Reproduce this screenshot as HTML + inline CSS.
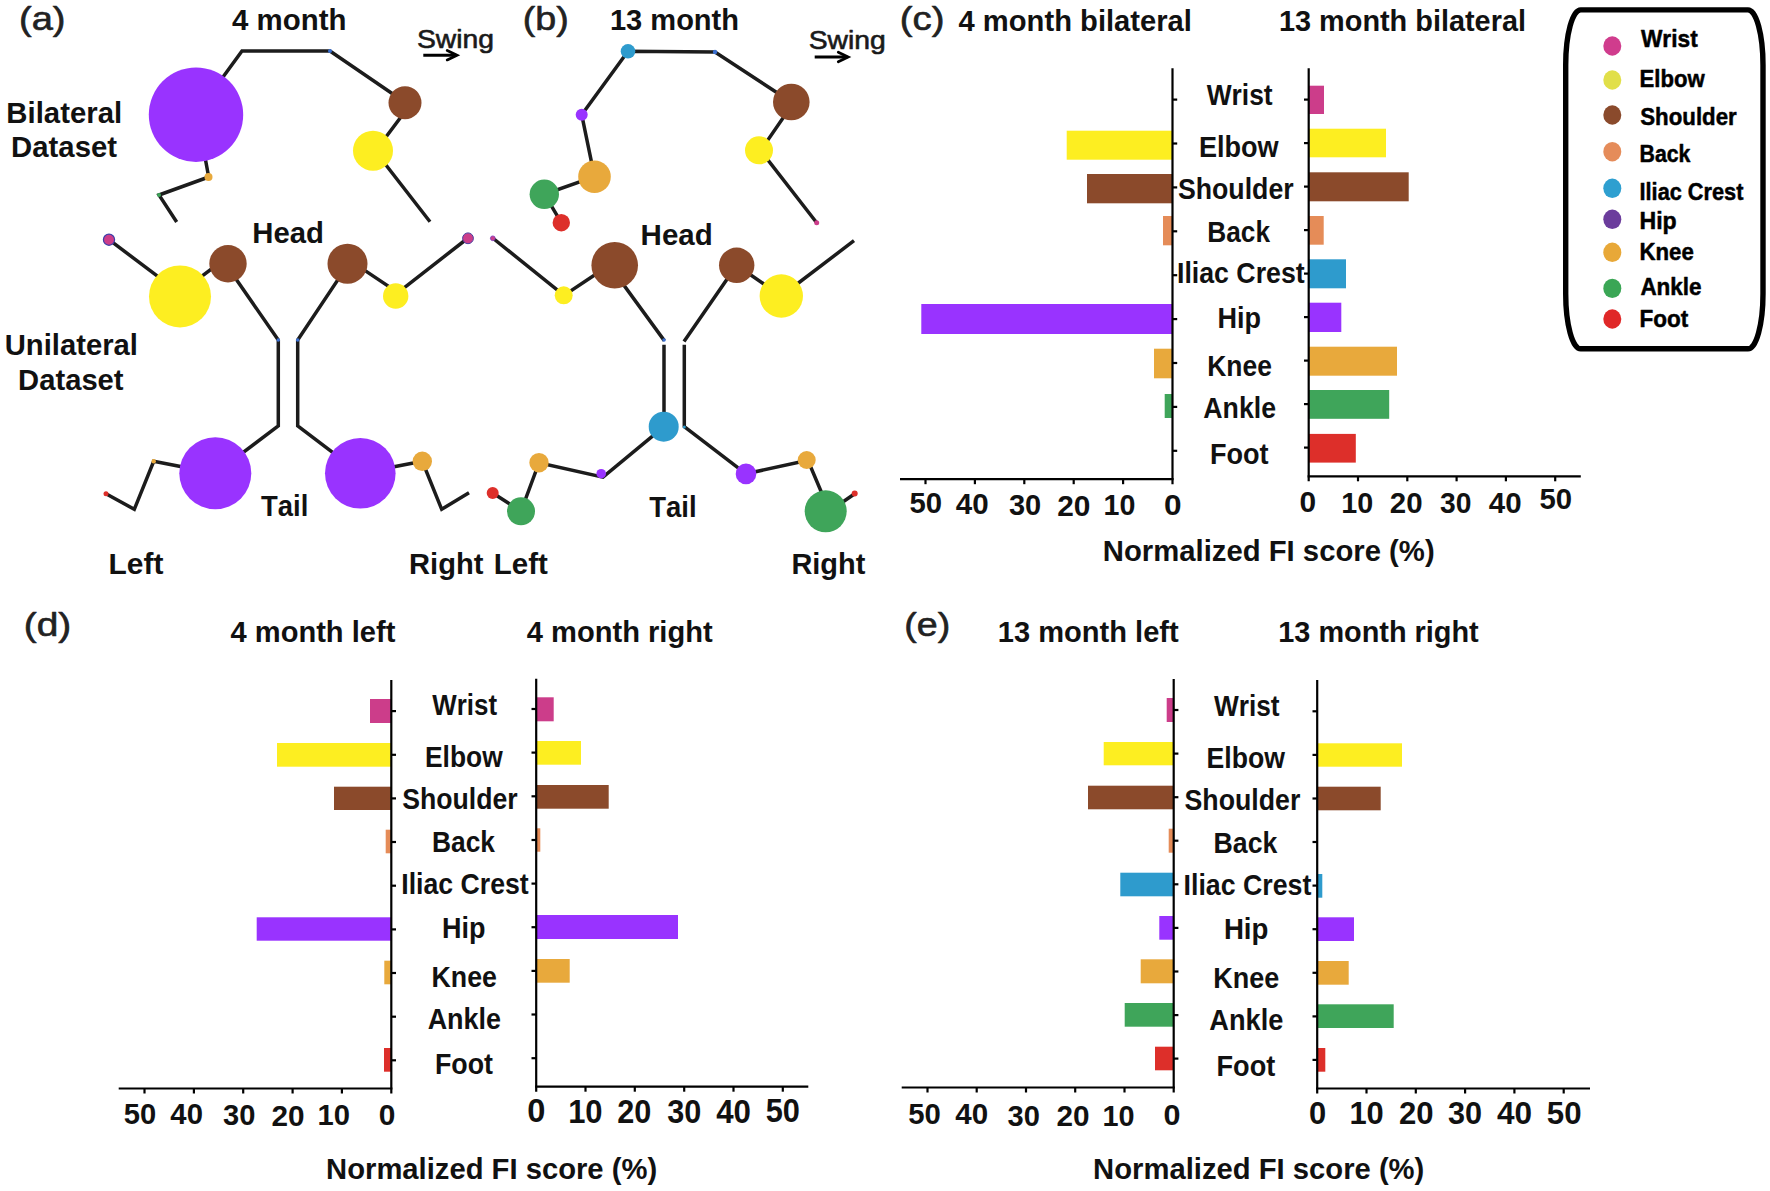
<!DOCTYPE html>
<html><head><meta charset="utf-8"><title>Figure</title>
<style>
html,body{margin:0;padding:0;background:#fff;}
svg{display:block;font-family:"Liberation Sans",sans-serif;font-kerning:none;}
</style></head><body>
<svg width="1770" height="1191" viewBox="0 0 1770 1191">
<rect width="1770" height="1191" fill="#ffffff"/>
<polyline points="196.0,114.0 242.0,51.0 330.0,51.0 405.3,102.5" fill="none" stroke="#1c1c1c" stroke-width="3.5" stroke-linejoin="miter" stroke-linecap="butt"/>
<polyline points="411.8,102.5 375.3,151.2 430.0,221.7" fill="none" stroke="#1c1c1c" stroke-width="3.5" stroke-linejoin="miter" stroke-linecap="butt"/>
<polyline points="197.0,114.0 208.7,177.0 159.0,195.0 176.7,222.0" fill="none" stroke="#1c1c1c" stroke-width="3.5" stroke-linejoin="miter" stroke-linecap="butt"/>
<circle cx="196.0" cy="114.7" r="47.2" fill="#9933ff" />
<circle cx="330.0" cy="51.0" r="2.0" fill="#3a6fd0" />
<circle cx="405.0" cy="102.7" r="16.5" fill="#8b4a2b" />
<circle cx="373.0" cy="150.7" r="20.0" fill="#fdee21" />
<circle cx="208.5" cy="177.0" r="4.0" fill="#e8a93c" />
<circle cx="159.0" cy="195.0" r="2.0" fill="#3fa55a" />
<polyline points="109.0,239.7 179.7,292.8 223.0,260.3 278.3,340.0 278.3,426.0 215.3,473.3 153.7,461.3 134.3,509.3 106.0,493.7" fill="none" stroke="#1c1c1c" stroke-width="3.5" stroke-linejoin="miter" stroke-linecap="butt"/>
<polyline points="468.0,238.0 398.0,292.6 350.5,260.9 297.7,340.0 297.7,426.0 360.3,473.3 422.3,461.3 441.7,509.3 469.0,492.7" fill="none" stroke="#1c1c1c" stroke-width="3.5" stroke-linejoin="miter" stroke-linecap="butt"/>
<circle cx="109.0" cy="239.7" r="5.6" fill="#cc3d8a" stroke="#3b3fa8" stroke-width="1.2"/>
<circle cx="468.0" cy="238.3" r="5.4" fill="#cc3d8a" stroke="#4b3fa0" stroke-width="1"/>
<circle cx="180.0" cy="296.4" r="31.0" fill="#fdee21" />
<circle cx="228.0" cy="263.7" r="18.7" fill="#8b4a2b" />
<circle cx="347.5" cy="263.7" r="20.0" fill="#8b4a2b" />
<circle cx="395.7" cy="296.0" r="12.7" fill="#fdee21" />
<circle cx="278.3" cy="340.0" r="1.8" fill="#3a6fd0" />
<circle cx="297.7" cy="340.0" r="1.8" fill="#3a6fd0" />
<circle cx="215.3" cy="473.3" r="36.0" fill="#9933ff" />
<circle cx="360.3" cy="473.3" r="35.3" fill="#9933ff" />
<circle cx="153.7" cy="461.3" r="2.2" fill="#e8a93c" />
<circle cx="422.3" cy="461.3" r="9.7" fill="#e8a93c" />
<circle cx="106.0" cy="493.7" r="2.5" fill="#dd2f2a" />
<polyline points="581.7,114.7 628.0,51.3 715.0,52.0 791.3,102.0" fill="none" stroke="#1c1c1c" stroke-width="3.5" stroke-linejoin="miter" stroke-linecap="butt"/>
<polyline points="794.0,102.0 760.6,150.5 816.7,222.7" fill="none" stroke="#1c1c1c" stroke-width="3.5" stroke-linejoin="miter" stroke-linecap="butt"/>
<polyline points="581.7,114.7 594.5,176.7 544.5,194.3 561.3,222.7" fill="none" stroke="#1c1c1c" stroke-width="3.5" stroke-linejoin="miter" stroke-linecap="butt"/>
<circle cx="628.0" cy="51.3" r="7.3" fill="#2e9bcd" />
<circle cx="715.0" cy="52.0" r="2.2" fill="#3a6fd0" />
<circle cx="791.3" cy="102.0" r="18.3" fill="#8b4a2b" />
<circle cx="759.0" cy="150.3" r="14.0" fill="#fdee21" />
<circle cx="816.7" cy="222.7" r="2.5" fill="#cc3d8a" />
<circle cx="581.7" cy="114.7" r="6.0" fill="#9933ff" />
<circle cx="594.5" cy="176.7" r="16.3" fill="#e8a93c" />
<circle cx="544.3" cy="194.3" r="14.7" fill="#3fa55a" />
<circle cx="561.3" cy="222.7" r="8.7" fill="#dd2f2a" />
<polyline points="492.7,238.0 564.0,295.4 609.3,265.2 664.3,340.6" fill="none" stroke="#1c1c1c" stroke-width="3.5" stroke-linejoin="miter" stroke-linecap="butt"/>
<polyline points="664.0,344.8 664.0,426.7 603.0,477.2 539.0,462.7 521.0,511.3 492.7,493.0" fill="none" stroke="#1c1c1c" stroke-width="3.5" stroke-linejoin="miter" stroke-linecap="butt"/>
<polyline points="854.0,240.7 781.3,296.0 736.7,265.3 684.0,341.4" fill="none" stroke="#1c1c1c" stroke-width="3.5" stroke-linejoin="miter" stroke-linecap="butt"/>
<polyline points="684.3,344.8 684.3,426.7 746.0,473.8 807.9,460.3 829.5,511.3 854.7,493.7" fill="none" stroke="#1c1c1c" stroke-width="3.5" stroke-linejoin="miter" stroke-linecap="butt"/>
<circle cx="492.8" cy="238.3" r="2.4" fill="#cc3d8a" stroke="#7b3fc0" stroke-width="0.8"/>
<circle cx="563.7" cy="295.3" r="9.0" fill="#fdee21" />
<circle cx="614.7" cy="265.3" r="23.3" fill="#8b4a2b" />
<circle cx="736.7" cy="265.3" r="17.7" fill="#8b4a2b" />
<circle cx="781.3" cy="296.0" r="21.7" fill="#fdee21" />
<circle cx="664.0" cy="340.0" r="1.8" fill="#3a6fd0" />
<circle cx="663.7" cy="426.7" r="15.0" fill="#2e9bcd" />
<circle cx="684.3" cy="427.0" r="1.5" fill="#2e9bcd" />
<circle cx="601.2" cy="473.7" r="4.8" fill="#9933ff" />
<circle cx="539.0" cy="462.7" r="9.7" fill="#e8a93c" />
<circle cx="521.0" cy="511.3" r="14.0" fill="#3fa55a" />
<circle cx="492.7" cy="493.0" r="6.0" fill="#dd2f2a" />
<circle cx="746.0" cy="473.9" r="10.3" fill="#9933ff" />
<circle cx="806.7" cy="460.0" r="9.0" fill="#e8a93c" />
<circle cx="825.7" cy="511.3" r="21.0" fill="#3fa55a" />
<circle cx="854.7" cy="493.6" r="3.0" fill="#dd2f2a" />
<text x="19.01" y="29.50" font-size="33" font-weight="400" fill="#222" textLength="46.56" lengthAdjust="spacingAndGlyphs"  stroke="#222" stroke-width="0.6" stroke-linejoin="round">(a)</text>
<text x="522.74" y="29.50" font-size="33" font-weight="400" fill="#222" textLength="46.00" lengthAdjust="spacingAndGlyphs"  stroke="#222" stroke-width="0.6" stroke-linejoin="round">(b)</text>
<text x="899.80" y="29.90" font-size="33" font-weight="400" fill="#222" textLength="44.75" lengthAdjust="spacingAndGlyphs"  stroke="#222" stroke-width="0.6" stroke-linejoin="round">(c)</text>
<text x="23.77" y="636.00" font-size="33" font-weight="400" fill="#222" textLength="47.56" lengthAdjust="spacingAndGlyphs"  stroke="#222" stroke-width="0.6" stroke-linejoin="round">(d)</text>
<text x="904.34" y="636.00" font-size="33" font-weight="400" fill="#222" textLength="46.00" lengthAdjust="spacingAndGlyphs"  stroke="#222" stroke-width="0.6" stroke-linejoin="round">(e)</text>
<text x="232.06" y="30.00" font-size="29.3" font-weight="700" fill="#111" textLength="114.37" lengthAdjust="spacingAndGlyphs" >4 month</text>
<text x="609.96" y="30.00" font-size="29.3" font-weight="700" fill="#111" textLength="129.08" lengthAdjust="spacingAndGlyphs" >13 month</text>
<text x="417.03" y="47.60" font-size="25.6" font-weight="400" fill="#1a1a1a" textLength="76.97" lengthAdjust="spacingAndGlyphs"  stroke="#1a1a1a" stroke-width="0.6" stroke-linejoin="round">Swing</text>
<text x="808.73" y="49.00" font-size="25.6" font-weight="400" fill="#1a1a1a" textLength="77.08" lengthAdjust="spacingAndGlyphs"  stroke="#1a1a1a" stroke-width="0.6" stroke-linejoin="round">Swing</text>
<polyline points="423.3,55.2 456.2,55.2" fill="none" stroke="#000" stroke-width="3" stroke-linejoin="miter" stroke-linecap="butt"/>
<polyline points="447.2,50.5 457.0,55.2 447.2,59.900000000000006" fill="none" stroke="#000" stroke-width="2.8" stroke-linejoin="miter" stroke-linecap="round"/>
<polyline points="814.7,57.0 847.3,57.0" fill="none" stroke="#000" stroke-width="3" stroke-linejoin="miter" stroke-linecap="butt"/>
<polyline points="838.3,52.3 848.0999999999999,57 838.3,61.7" fill="none" stroke="#000" stroke-width="2.8" stroke-linejoin="miter" stroke-linecap="round"/>
<text x="6.39" y="123.00" font-size="29.3" font-weight="700" fill="#111" textLength="115.75" lengthAdjust="spacingAndGlyphs" >Bilateral</text>
<text x="11.09" y="157.30" font-size="29.3" font-weight="700" fill="#111" textLength="105.99" lengthAdjust="spacingAndGlyphs" >Dataset</text>
<text x="4.75" y="355.00" font-size="29.3" font-weight="700" fill="#111" textLength="133.22" lengthAdjust="spacingAndGlyphs" >Unilateral</text>
<text x="18.10" y="389.80" font-size="29.3" font-weight="700" fill="#111" textLength="105.48" lengthAdjust="spacingAndGlyphs" >Dataset</text>
<text x="252.30" y="243.40" font-size="29.3" font-weight="700" fill="#111" textLength="71.62" lengthAdjust="spacingAndGlyphs" >Head</text>
<text x="640.58" y="244.50" font-size="29.3" font-weight="700" fill="#111" textLength="72.15" lengthAdjust="spacingAndGlyphs" >Head</text>
<text x="261.11" y="515.80" font-size="29.3" font-weight="700" fill="#111" textLength="47.25" lengthAdjust="spacingAndGlyphs" >Tail</text>
<text x="649.31" y="516.80" font-size="29.3" font-weight="700" fill="#111" textLength="47.35" lengthAdjust="spacingAndGlyphs" >Tail</text>
<text x="108.56" y="574.00" font-size="29.3" font-weight="700" fill="#111" textLength="54.84" lengthAdjust="spacingAndGlyphs" >Left</text>
<text x="409.11" y="574.00" font-size="29.3" font-weight="700" fill="#111" textLength="74.32" lengthAdjust="spacingAndGlyphs" >Right</text>
<text x="493.89" y="574.00" font-size="29.3" font-weight="700" fill="#111" textLength="54.00" lengthAdjust="spacingAndGlyphs" >Left</text>
<text x="791.42" y="574.00" font-size="29.3" font-weight="700" fill="#111" textLength="74.01" lengthAdjust="spacingAndGlyphs" >Right</text>
<rect x="1066.7" y="130.7" width="105.8" height="29.0" fill="#fdee21"/>
<rect x="1087.0" y="174.0" width="85.5" height="29.3" fill="#8b4a2b"/>
<rect x="1163.0" y="216.0" width="9.5" height="29.3" fill="#e58c58"/>
<rect x="921.3" y="304.0" width="251.2" height="30.0" fill="#9933ff"/>
<rect x="1154.0" y="348.7" width="18.5" height="29.6" fill="#e8a93c"/>
<rect x="1164.7" y="394.0" width="7.8" height="24.0" fill="#3fa55a"/>
<rect x="1308.7" y="85.7" width="15.3" height="28.3" fill="#cc3d8a"/>
<rect x="1308.7" y="128.7" width="77.3" height="28.6" fill="#fdee21"/>
<rect x="1308.7" y="172.3" width="100.0" height="29.0" fill="#8b4a2b"/>
<rect x="1308.7" y="216.0" width="15.0" height="28.7" fill="#e58c58"/>
<rect x="1308.7" y="259.3" width="37.3" height="29.0" fill="#2e9bcd"/>
<rect x="1308.7" y="302.7" width="32.6" height="29.3" fill="#9933ff"/>
<rect x="1308.7" y="346.7" width="88.3" height="29.0" fill="#e8a93c"/>
<rect x="1308.7" y="390.0" width="80.5" height="28.8" fill="#3fa55a"/>
<rect x="1308.7" y="433.9" width="47.1" height="28.7" fill="#dd2f2a"/>
<line x1="1172.5" y1="68.3" x2="1172.5" y2="484.2" stroke="#000" stroke-width="2.2"/>
<line x1="1308.7" y1="68.3" x2="1308.7" y2="481.3" stroke="#000" stroke-width="2.2"/>
<line x1="900" y1="479.2" x2="1173.6" y2="479.2" stroke="#000" stroke-width="2.2"/>
<line x1="1307.6000000000001" y1="476.3" x2="1580.8" y2="476.3" stroke="#000" stroke-width="2.2"/>
<line x1="1172.5" y1="99.6" x2="1177.2" y2="99.6" stroke="#000" stroke-width="2.2"/>
<line x1="1308.7" y1="99.6" x2="1304.0" y2="99.6" stroke="#000" stroke-width="2.2"/>
<line x1="1172.5" y1="143.5" x2="1177.2" y2="143.5" stroke="#000" stroke-width="2.2"/>
<line x1="1308.7" y1="143.1" x2="1304.0" y2="143.1" stroke="#000" stroke-width="2.2"/>
<line x1="1172.5" y1="187.4" x2="1177.2" y2="187.4" stroke="#000" stroke-width="2.2"/>
<line x1="1308.7" y1="186.6" x2="1304.0" y2="186.6" stroke="#000" stroke-width="2.2"/>
<line x1="1172.5" y1="231.3" x2="1177.2" y2="231.3" stroke="#000" stroke-width="2.2"/>
<line x1="1308.7" y1="230.1" x2="1304.0" y2="230.1" stroke="#000" stroke-width="2.2"/>
<line x1="1172.5" y1="275.2" x2="1177.2" y2="275.2" stroke="#000" stroke-width="2.2"/>
<line x1="1308.7" y1="273.6" x2="1304.0" y2="273.6" stroke="#000" stroke-width="2.2"/>
<line x1="1172.5" y1="319.1" x2="1177.2" y2="319.1" stroke="#000" stroke-width="2.2"/>
<line x1="1308.7" y1="317.1" x2="1304.0" y2="317.1" stroke="#000" stroke-width="2.2"/>
<line x1="1172.5" y1="363.0" x2="1177.2" y2="363.0" stroke="#000" stroke-width="2.2"/>
<line x1="1308.7" y1="360.6" x2="1304.0" y2="360.6" stroke="#000" stroke-width="2.2"/>
<line x1="1172.5" y1="406.9" x2="1177.2" y2="406.9" stroke="#000" stroke-width="2.2"/>
<line x1="1308.7" y1="404.1" x2="1304.0" y2="404.1" stroke="#000" stroke-width="2.2"/>
<line x1="1172.5" y1="450.8" x2="1177.2" y2="450.8" stroke="#000" stroke-width="2.2"/>
<line x1="1308.7" y1="447.6" x2="1304.0" y2="447.6" stroke="#000" stroke-width="2.2"/>
<text x="1164.04" y="514.70" font-size="29" font-weight="700" fill="#111" textLength="17.56" lengthAdjust="spacingAndGlyphs" >0</text>
<text x="1299.60" y="512.00" font-size="29" font-weight="700" fill="#111" textLength="16.63" lengthAdjust="spacingAndGlyphs" >0</text>
<line x1="1123.1" y1="479.2" x2="1123.1" y2="484.2" stroke="#000" stroke-width="2.2"/>
<text x="1103.58" y="515.30" font-size="29" font-weight="700" fill="#111" textLength="31.83" lengthAdjust="spacingAndGlyphs" >10</text>
<line x1="1358.0" y1="476.3" x2="1358.0" y2="481.3" stroke="#000" stroke-width="2.2"/>
<text x="1341.28" y="512.80" font-size="29" font-weight="700" fill="#111" textLength="31.94" lengthAdjust="spacingAndGlyphs" >10</text>
<line x1="1073.7" y1="479.2" x2="1073.7" y2="484.2" stroke="#000" stroke-width="2.2"/>
<text x="1057.26" y="515.80" font-size="29" font-weight="700" fill="#111" textLength="33.21" lengthAdjust="spacingAndGlyphs" >20</text>
<line x1="1407.3" y1="476.3" x2="1407.3" y2="481.3" stroke="#000" stroke-width="2.2"/>
<text x="1389.77" y="512.80" font-size="29" font-weight="700" fill="#111" textLength="32.78" lengthAdjust="spacingAndGlyphs" >20</text>
<line x1="1024.3" y1="479.2" x2="1024.3" y2="484.2" stroke="#000" stroke-width="2.2"/>
<text x="1008.98" y="515.30" font-size="29" font-weight="700" fill="#111" textLength="32.25" lengthAdjust="spacingAndGlyphs" >30</text>
<line x1="1456.6" y1="476.3" x2="1456.6" y2="481.3" stroke="#000" stroke-width="2.2"/>
<text x="1440.09" y="512.50" font-size="29" font-weight="700" fill="#111" textLength="31.40" lengthAdjust="spacingAndGlyphs" >30</text>
<line x1="974.9" y1="479.2" x2="974.9" y2="484.2" stroke="#000" stroke-width="2.2"/>
<text x="955.86" y="514.20" font-size="29" font-weight="700" fill="#111" textLength="32.90" lengthAdjust="spacingAndGlyphs" >40</text>
<line x1="1505.9" y1="476.3" x2="1505.9" y2="481.3" stroke="#000" stroke-width="2.2"/>
<text x="1488.76" y="512.80" font-size="29" font-weight="700" fill="#111" textLength="32.79" lengthAdjust="spacingAndGlyphs" >40</text>
<line x1="925.5" y1="479.2" x2="925.5" y2="484.2" stroke="#000" stroke-width="2.2"/>
<text x="909.42" y="513.30" font-size="29" font-weight="700" fill="#111" textLength="32.62" lengthAdjust="spacingAndGlyphs" >50</text>
<line x1="1555.2" y1="476.3" x2="1555.2" y2="481.3" stroke="#000" stroke-width="2.2"/>
<text x="1539.42" y="509.20" font-size="29" font-weight="700" fill="#111" textLength="32.62" lengthAdjust="spacingAndGlyphs" >50</text>
<text x="1206.70" y="104.80" font-size="29.3" font-weight="700" fill="#111" textLength="65.92" lengthAdjust="spacingAndGlyphs" >Wrist</text>
<text x="1198.94" y="156.80" font-size="29.3" font-weight="700" fill="#111" textLength="79.74" lengthAdjust="spacingAndGlyphs" >Elbow</text>
<text x="1177.90" y="198.80" font-size="29.3" font-weight="700" fill="#111" textLength="115.76" lengthAdjust="spacingAndGlyphs" >Shoulder</text>
<text x="1207.29" y="241.50" font-size="29.3" font-weight="700" fill="#111" textLength="62.72" lengthAdjust="spacingAndGlyphs" >Back</text>
<text x="1176.96" y="282.80" font-size="29.3" font-weight="700" fill="#111" textLength="127.75" lengthAdjust="spacingAndGlyphs" >Iliac Crest</text>
<text x="1217.54" y="327.50" font-size="29.3" font-weight="700" fill="#111" textLength="43.56" lengthAdjust="spacingAndGlyphs" >Hip</text>
<text x="1207.28" y="375.80" font-size="29.3" font-weight="700" fill="#111" textLength="64.65" lengthAdjust="spacingAndGlyphs" >Knee</text>
<text x="1203.33" y="418.10" font-size="29.3" font-weight="700" fill="#111" textLength="72.69" lengthAdjust="spacingAndGlyphs" >Ankle</text>
<text x="1209.94" y="463.50" font-size="29.3" font-weight="700" fill="#111" textLength="58.65" lengthAdjust="spacingAndGlyphs" >Foot</text>
<text x="958.56" y="31.20" font-size="29.3" font-weight="700" fill="#111" textLength="233.38" lengthAdjust="spacingAndGlyphs" >4 month bilateral</text>
<text x="1278.97" y="31.20" font-size="29.3" font-weight="700" fill="#111" textLength="246.99" lengthAdjust="spacingAndGlyphs" >13 month bilateral</text>
<text x="1102.80" y="561.00" font-size="29.3" font-weight="700" fill="#111" textLength="331.85" lengthAdjust="spacingAndGlyphs" >Normalized FI score (%)</text>
<rect x="370.0" y="699.0" width="21.3" height="24.0" fill="#cc3d8a"/>
<rect x="277.0" y="743.0" width="114.3" height="23.7" fill="#fdee21"/>
<rect x="334.0" y="786.7" width="57.3" height="23.3" fill="#8b4a2b"/>
<rect x="385.7" y="829.7" width="5.6" height="23.6" fill="#e58c58"/>
<rect x="256.7" y="917.3" width="134.6" height="23.4" fill="#9933ff"/>
<rect x="384.3" y="960.7" width="7.0" height="23.6" fill="#e8a93c"/>
<rect x="384.0" y="1048.0" width="7.3" height="23.7" fill="#dd2f2a"/>
<rect x="536.2" y="697.3" width="17.5" height="24.0" fill="#cc3d8a"/>
<rect x="536.2" y="741.0" width="44.8" height="23.7" fill="#fdee21"/>
<rect x="536.2" y="785.0" width="72.5" height="23.7" fill="#8b4a2b"/>
<rect x="536.2" y="828.3" width="4.1" height="23.4" fill="#e58c58"/>
<rect x="536.2" y="915.0" width="141.8" height="24.0" fill="#9933ff"/>
<rect x="536.2" y="959.0" width="33.5" height="23.7" fill="#e8a93c"/>
<line x1="391.3" y1="680" x2="391.3" y2="1093.5" stroke="#000" stroke-width="2.2"/>
<line x1="536.2" y1="678.7" x2="536.2" y2="1091.7" stroke="#000" stroke-width="2.2"/>
<line x1="118.7" y1="1088.5" x2="392.40000000000003" y2="1088.5" stroke="#000" stroke-width="2.2"/>
<line x1="535.1" y1="1086.7" x2="808.3" y2="1086.7" stroke="#000" stroke-width="2.2"/>
<line x1="391.3" y1="711.1" x2="396.0" y2="711.1" stroke="#000" stroke-width="2.2"/>
<line x1="536.2" y1="709.0" x2="531.5" y2="709.0" stroke="#000" stroke-width="2.2"/>
<line x1="391.3" y1="754.8" x2="396.0" y2="754.8" stroke="#000" stroke-width="2.2"/>
<line x1="536.2" y1="752.6" x2="531.5" y2="752.6" stroke="#000" stroke-width="2.2"/>
<line x1="391.3" y1="798.4" x2="396.0" y2="798.4" stroke="#000" stroke-width="2.2"/>
<line x1="536.2" y1="796.3" x2="531.5" y2="796.3" stroke="#000" stroke-width="2.2"/>
<line x1="391.3" y1="842.0" x2="396.0" y2="842.0" stroke="#000" stroke-width="2.2"/>
<line x1="536.2" y1="840.0" x2="531.5" y2="840.0" stroke="#000" stroke-width="2.2"/>
<line x1="391.3" y1="885.7" x2="396.0" y2="885.7" stroke="#000" stroke-width="2.2"/>
<line x1="536.2" y1="883.6" x2="531.5" y2="883.6" stroke="#000" stroke-width="2.2"/>
<line x1="391.3" y1="929.4" x2="396.0" y2="929.4" stroke="#000" stroke-width="2.2"/>
<line x1="536.2" y1="927.2" x2="531.5" y2="927.2" stroke="#000" stroke-width="2.2"/>
<line x1="391.3" y1="973.0" x2="396.0" y2="973.0" stroke="#000" stroke-width="2.2"/>
<line x1="536.2" y1="970.9" x2="531.5" y2="970.9" stroke="#000" stroke-width="2.2"/>
<line x1="391.3" y1="1016.7" x2="396.0" y2="1016.7" stroke="#000" stroke-width="2.2"/>
<line x1="536.2" y1="1014.5" x2="531.5" y2="1014.5" stroke="#000" stroke-width="2.2"/>
<line x1="391.3" y1="1060.3" x2="396.0" y2="1060.3" stroke="#000" stroke-width="2.2"/>
<line x1="536.2" y1="1058.2" x2="531.5" y2="1058.2" stroke="#000" stroke-width="2.2"/>
<text x="378.80" y="1124.70" font-size="29" font-weight="700" fill="#111" textLength="16.63" lengthAdjust="spacingAndGlyphs" >0</text>
<text x="527.39" y="1122.20" font-size="32.3" font-weight="700" fill="#111" textLength="18.15" lengthAdjust="spacingAndGlyphs" >0</text>
<line x1="341.9" y1="1088.5" x2="341.9" y2="1093.5" stroke="#000" stroke-width="2.2"/>
<text x="317.45" y="1125.00" font-size="29" font-weight="700" fill="#111" textLength="32.49" lengthAdjust="spacingAndGlyphs" >10</text>
<line x1="585.5" y1="1086.7" x2="585.5" y2="1091.7" stroke="#000" stroke-width="2.2"/>
<text x="568.14" y="1122.70" font-size="32.3" font-weight="700" fill="#111" textLength="34.47" lengthAdjust="spacingAndGlyphs" >10</text>
<line x1="292.6" y1="1088.5" x2="292.6" y2="1093.5" stroke="#000" stroke-width="2.2"/>
<text x="271.46" y="1125.50" font-size="29" font-weight="700" fill="#111" textLength="33.10" lengthAdjust="spacingAndGlyphs" >20</text>
<line x1="634.8" y1="1086.7" x2="634.8" y2="1091.7" stroke="#000" stroke-width="2.2"/>
<text x="617.23" y="1122.70" font-size="32.3" font-weight="700" fill="#111" textLength="34.07" lengthAdjust="spacingAndGlyphs" >20</text>
<line x1="243.2" y1="1088.5" x2="243.2" y2="1093.5" stroke="#000" stroke-width="2.2"/>
<text x="223.07" y="1125.00" font-size="29" font-weight="700" fill="#111" textLength="32.36" lengthAdjust="spacingAndGlyphs" >30</text>
<line x1="684.2" y1="1086.7" x2="684.2" y2="1091.7" stroke="#000" stroke-width="2.2"/>
<text x="667.23" y="1122.70" font-size="32.3" font-weight="700" fill="#111" textLength="34.06" lengthAdjust="spacingAndGlyphs" >30</text>
<line x1="193.9" y1="1088.5" x2="193.9" y2="1093.5" stroke="#000" stroke-width="2.2"/>
<text x="170.36" y="1123.80" font-size="29" font-weight="700" fill="#111" textLength="32.58" lengthAdjust="spacingAndGlyphs" >40</text>
<line x1="733.5" y1="1086.7" x2="733.5" y2="1091.7" stroke="#000" stroke-width="2.2"/>
<text x="716.23" y="1122.70" font-size="32.3" font-weight="700" fill="#111" textLength="34.79" lengthAdjust="spacingAndGlyphs" >40</text>
<line x1="144.5" y1="1088.5" x2="144.5" y2="1093.5" stroke="#000" stroke-width="2.2"/>
<text x="123.83" y="1123.50" font-size="29" font-weight="700" fill="#111" textLength="32.41" lengthAdjust="spacingAndGlyphs" >50</text>
<line x1="782.8" y1="1086.7" x2="782.8" y2="1091.7" stroke="#000" stroke-width="2.2"/>
<text x="765.78" y="1122.20" font-size="32.3" font-weight="700" fill="#111" textLength="34.23" lengthAdjust="spacingAndGlyphs" >50</text>
<text x="432.30" y="715.00" font-size="29.3" font-weight="700" fill="#111" textLength="64.71" lengthAdjust="spacingAndGlyphs" >Wrist</text>
<text x="424.98" y="767.20" font-size="29.3" font-weight="700" fill="#111" textLength="77.70" lengthAdjust="spacingAndGlyphs" >Elbow</text>
<text x="402.20" y="809.00" font-size="29.3" font-weight="700" fill="#111" textLength="115.46" lengthAdjust="spacingAndGlyphs" >Shoulder</text>
<text x="431.99" y="851.70" font-size="29.3" font-weight="700" fill="#111" textLength="63.03" lengthAdjust="spacingAndGlyphs" >Back</text>
<text x="401.27" y="894.10" font-size="29.3" font-weight="700" fill="#111" textLength="127.44" lengthAdjust="spacingAndGlyphs" >Iliac Crest</text>
<text x="441.95" y="938.10" font-size="29.3" font-weight="700" fill="#111" textLength="43.46" lengthAdjust="spacingAndGlyphs" >Hip</text>
<text x="431.56" y="986.50" font-size="29.3" font-weight="700" fill="#111" textLength="65.38" lengthAdjust="spacingAndGlyphs" >Knee</text>
<text x="427.63" y="1028.50" font-size="29.3" font-weight="700" fill="#111" textLength="73.40" lengthAdjust="spacingAndGlyphs" >Ankle</text>
<text x="434.96" y="1074.10" font-size="29.3" font-weight="700" fill="#111" textLength="58.03" lengthAdjust="spacingAndGlyphs" >Foot</text>
<text x="230.56" y="641.60" font-size="29.3" font-weight="700" fill="#111" textLength="164.77" lengthAdjust="spacingAndGlyphs" >4 month left</text>
<text x="526.86" y="641.60" font-size="29.3" font-weight="700" fill="#111" textLength="185.82" lengthAdjust="spacingAndGlyphs" >4 month right</text>
<text x="326.10" y="1178.50" font-size="29.3" font-weight="700" fill="#111" textLength="331.04" lengthAdjust="spacingAndGlyphs" >Normalized FI score (%)</text>
<rect x="1166.7" y="698.0" width="7.0" height="24.0" fill="#cc3d8a"/>
<rect x="1103.7" y="742.0" width="70.0" height="23.3" fill="#fdee21"/>
<rect x="1088.0" y="785.7" width="85.7" height="23.6" fill="#8b4a2b"/>
<rect x="1168.7" y="828.7" width="5.0" height="24.0" fill="#e58c58"/>
<rect x="1120.3" y="872.7" width="53.4" height="23.6" fill="#2e9bcd"/>
<rect x="1159.3" y="916.0" width="14.4" height="23.7" fill="#9933ff"/>
<rect x="1140.7" y="959.3" width="33.0" height="24.0" fill="#e8a93c"/>
<rect x="1124.7" y="1003.0" width="49.0" height="23.7" fill="#3fa55a"/>
<rect x="1155.0" y="1046.7" width="18.7" height="23.6" fill="#dd2f2a"/>
<rect x="1317.2" y="743.3" width="84.8" height="23.4" fill="#fdee21"/>
<rect x="1317.2" y="786.7" width="63.5" height="23.6" fill="#8b4a2b"/>
<rect x="1317.2" y="874.0" width="5.1" height="23.7" fill="#2e9bcd"/>
<rect x="1317.2" y="917.3" width="36.8" height="23.7" fill="#9933ff"/>
<rect x="1317.2" y="961.0" width="31.5" height="23.7" fill="#e8a93c"/>
<rect x="1317.2" y="1004.3" width="76.5" height="23.7" fill="#3fa55a"/>
<rect x="1317.2" y="1048.0" width="8.1" height="23.7" fill="#dd2f2a"/>
<line x1="1173.7" y1="679" x2="1173.7" y2="1092.5" stroke="#000" stroke-width="2.2"/>
<line x1="1317.2" y1="680" x2="1317.2" y2="1093.5" stroke="#000" stroke-width="2.2"/>
<line x1="901.7" y1="1087.5" x2="1174.8" y2="1087.5" stroke="#000" stroke-width="2.2"/>
<line x1="1316.1000000000001" y1="1088.5" x2="1590" y2="1088.5" stroke="#000" stroke-width="2.2"/>
<line x1="1173.7" y1="710.0" x2="1178.4" y2="710.0" stroke="#000" stroke-width="2.2"/>
<line x1="1317.2" y1="711.3" x2="1312.5" y2="711.3" stroke="#000" stroke-width="2.2"/>
<line x1="1173.7" y1="753.6" x2="1178.4" y2="753.6" stroke="#000" stroke-width="2.2"/>
<line x1="1317.2" y1="754.9" x2="1312.5" y2="754.9" stroke="#000" stroke-width="2.2"/>
<line x1="1173.7" y1="797.2" x2="1178.4" y2="797.2" stroke="#000" stroke-width="2.2"/>
<line x1="1317.2" y1="798.5" x2="1312.5" y2="798.5" stroke="#000" stroke-width="2.2"/>
<line x1="1173.7" y1="840.7" x2="1178.4" y2="840.7" stroke="#000" stroke-width="2.2"/>
<line x1="1317.2" y1="842.0" x2="1312.5" y2="842.0" stroke="#000" stroke-width="2.2"/>
<line x1="1173.7" y1="884.3" x2="1178.4" y2="884.3" stroke="#000" stroke-width="2.2"/>
<line x1="1317.2" y1="885.6" x2="1312.5" y2="885.6" stroke="#000" stroke-width="2.2"/>
<line x1="1173.7" y1="927.9" x2="1178.4" y2="927.9" stroke="#000" stroke-width="2.2"/>
<line x1="1317.2" y1="929.2" x2="1312.5" y2="929.2" stroke="#000" stroke-width="2.2"/>
<line x1="1173.7" y1="971.5" x2="1178.4" y2="971.5" stroke="#000" stroke-width="2.2"/>
<line x1="1317.2" y1="972.8" x2="1312.5" y2="972.8" stroke="#000" stroke-width="2.2"/>
<line x1="1173.7" y1="1015.1" x2="1178.4" y2="1015.1" stroke="#000" stroke-width="2.2"/>
<line x1="1317.2" y1="1016.4" x2="1312.5" y2="1016.4" stroke="#000" stroke-width="2.2"/>
<line x1="1173.7" y1="1058.6" x2="1178.4" y2="1058.6" stroke="#000" stroke-width="2.2"/>
<line x1="1317.2" y1="1059.9" x2="1312.5" y2="1059.9" stroke="#000" stroke-width="2.2"/>
<text x="1163.48" y="1124.70" font-size="29" font-weight="700" fill="#111" textLength="16.98" lengthAdjust="spacingAndGlyphs" >0</text>
<text x="1309.06" y="1123.80" font-size="31.8" font-weight="700" fill="#111" textLength="17.21" lengthAdjust="spacingAndGlyphs" >0</text>
<line x1="1124.5" y1="1087.5" x2="1124.5" y2="1092.5" stroke="#000" stroke-width="2.2"/>
<text x="1102.47" y="1125.50" font-size="29" font-weight="700" fill="#111" textLength="32.05" lengthAdjust="spacingAndGlyphs" >10</text>
<line x1="1366.5" y1="1088.5" x2="1366.5" y2="1093.5" stroke="#000" stroke-width="2.2"/>
<text x="1349.45" y="1123.80" font-size="31.8" font-weight="700" fill="#111" textLength="34.36" lengthAdjust="spacingAndGlyphs" >10</text>
<line x1="1075.2" y1="1087.5" x2="1075.2" y2="1092.5" stroke="#000" stroke-width="2.2"/>
<text x="1056.46" y="1125.80" font-size="29" font-weight="700" fill="#111" textLength="33.10" lengthAdjust="spacingAndGlyphs" >20</text>
<line x1="1415.8" y1="1088.5" x2="1415.8" y2="1093.5" stroke="#000" stroke-width="2.2"/>
<text x="1398.91" y="1124.30" font-size="31.8" font-weight="700" fill="#111" textLength="34.61" lengthAdjust="spacingAndGlyphs" >20</text>
<line x1="1026.0" y1="1087.5" x2="1026.0" y2="1092.5" stroke="#000" stroke-width="2.2"/>
<text x="1007.57" y="1125.50" font-size="29" font-weight="700" fill="#111" textLength="32.36" lengthAdjust="spacingAndGlyphs" >30</text>
<line x1="1465.1" y1="1088.5" x2="1465.1" y2="1093.5" stroke="#000" stroke-width="2.2"/>
<text x="1448.03" y="1123.80" font-size="31.8" font-weight="700" fill="#111" textLength="34.06" lengthAdjust="spacingAndGlyphs" >30</text>
<line x1="976.7" y1="1087.5" x2="976.7" y2="1092.5" stroke="#000" stroke-width="2.2"/>
<text x="955.36" y="1124.20" font-size="29" font-weight="700" fill="#111" textLength="32.90" lengthAdjust="spacingAndGlyphs" >40</text>
<line x1="1514.4" y1="1088.5" x2="1514.4" y2="1093.5" stroke="#000" stroke-width="2.2"/>
<text x="1497.03" y="1123.80" font-size="31.8" font-weight="700" fill="#111" textLength="35.11" lengthAdjust="spacingAndGlyphs" >40</text>
<line x1="927.5" y1="1087.5" x2="927.5" y2="1092.5" stroke="#000" stroke-width="2.2"/>
<text x="908.32" y="1123.80" font-size="29" font-weight="700" fill="#111" textLength="32.62" lengthAdjust="spacingAndGlyphs" >50</text>
<line x1="1563.7" y1="1088.5" x2="1563.7" y2="1093.5" stroke="#000" stroke-width="2.2"/>
<text x="1546.86" y="1123.80" font-size="31.8" font-weight="700" fill="#111" textLength="34.76" lengthAdjust="spacingAndGlyphs" >50</text>
<text x="1214.00" y="716.00" font-size="29.3" font-weight="700" fill="#111" textLength="65.62" lengthAdjust="spacingAndGlyphs" >Wrist</text>
<text x="1206.57" y="768.20" font-size="29.3" font-weight="700" fill="#111" textLength="78.41" lengthAdjust="spacingAndGlyphs" >Elbow</text>
<text x="1184.50" y="810.00" font-size="29.3" font-weight="700" fill="#111" textLength="115.87" lengthAdjust="spacingAndGlyphs" >Shoulder</text>
<text x="1213.57" y="852.70" font-size="29.3" font-weight="700" fill="#111" textLength="63.75" lengthAdjust="spacingAndGlyphs" >Back</text>
<text x="1183.56" y="895.00" font-size="29.3" font-weight="700" fill="#111" textLength="127.85" lengthAdjust="spacingAndGlyphs" >Iliac Crest</text>
<text x="1223.90" y="939.10" font-size="29.3" font-weight="700" fill="#111" textLength="44.53" lengthAdjust="spacingAndGlyphs" >Hip</text>
<text x="1213.25" y="988.10" font-size="29.3" font-weight="700" fill="#111" textLength="66.01" lengthAdjust="spacingAndGlyphs" >Knee</text>
<text x="1209.32" y="1030.00" font-size="29.3" font-weight="700" fill="#111" textLength="74.02" lengthAdjust="spacingAndGlyphs" >Ankle</text>
<text x="1216.54" y="1075.80" font-size="29.3" font-weight="700" fill="#111" textLength="58.75" lengthAdjust="spacingAndGlyphs" >Foot</text>
<text x="997.76" y="641.60" font-size="29.3" font-weight="700" fill="#111" textLength="180.92" lengthAdjust="spacingAndGlyphs" >13 month left</text>
<text x="1278.27" y="641.60" font-size="29.3" font-weight="700" fill="#111" textLength="200.45" lengthAdjust="spacingAndGlyphs" >13 month right</text>
<text x="1093.10" y="1178.60" font-size="29.3" font-weight="700" fill="#111" textLength="331.24" lengthAdjust="spacingAndGlyphs" >Normalized FI score (%)</text>
<rect x="1565.7" y="9.9" width="197.3" height="338.9" rx="15" ry="55" fill="#fff" stroke="#000" stroke-width="5.4"/>
<ellipse cx="1612.3" cy="46" rx="9" ry="9.7" fill="#d03c8d"/>
<text x="1640.95" y="47.40" font-size="24.5" font-weight="700" fill="#000" textLength="56.77" lengthAdjust="spacingAndGlyphs"  stroke="#000" stroke-width="0.5" stroke-linejoin="round">Wrist</text>
<ellipse cx="1612.3" cy="80" rx="9" ry="9.7" fill="#e1df49"/>
<text x="1639.51" y="87.00" font-size="24.5" font-weight="700" fill="#000" textLength="65.23" lengthAdjust="spacingAndGlyphs"  stroke="#000" stroke-width="0.5" stroke-linejoin="round">Elbow</text>
<ellipse cx="1612.3" cy="115" rx="9" ry="9.7" fill="#8a4a2c"/>
<text x="1640.28" y="125.40" font-size="24.5" font-weight="700" fill="#000" textLength="96.47" lengthAdjust="spacingAndGlyphs"  stroke="#000" stroke-width="0.5" stroke-linejoin="round">Shoulder</text>
<ellipse cx="1612.3" cy="151.7" rx="9" ry="9.7" fill="#e58c5a"/>
<text x="1639.57" y="162.40" font-size="24.5" font-weight="700" fill="#000" textLength="50.90" lengthAdjust="spacingAndGlyphs"  stroke="#000" stroke-width="0.5" stroke-linejoin="round">Back</text>
<ellipse cx="1612.3" cy="188.3" rx="9" ry="9.7" fill="#2e9fd0"/>
<text x="1639.54" y="200.40" font-size="24.5" font-weight="700" fill="#000" textLength="103.84" lengthAdjust="spacingAndGlyphs"  stroke="#000" stroke-width="0.5" stroke-linejoin="round">Iliac Crest</text>
<ellipse cx="1612.3" cy="219.3" rx="9" ry="9.7" fill="#6b3c9c"/>
<text x="1639.45" y="229.00" font-size="24.5" font-weight="700" fill="#000" textLength="37.25" lengthAdjust="spacingAndGlyphs"  stroke="#000" stroke-width="0.5" stroke-linejoin="round">Hip</text>
<ellipse cx="1612.3" cy="252.3" rx="9" ry="9.7" fill="#e8a838"/>
<text x="1639.51" y="260.40" font-size="24.5" font-weight="700" fill="#000" textLength="54.33" lengthAdjust="spacingAndGlyphs"  stroke="#000" stroke-width="0.5" stroke-linejoin="round">Knee</text>
<ellipse cx="1612.3" cy="288.4" rx="9" ry="9.7" fill="#3aa655"/>
<text x="1640.39" y="295.40" font-size="24.5" font-weight="700" fill="#000" textLength="61.22" lengthAdjust="spacingAndGlyphs"  stroke="#000" stroke-width="0.5" stroke-linejoin="round">Ankle</text>
<ellipse cx="1612.3" cy="319" rx="9" ry="9.7" fill="#e02828"/>
<text x="1639.49" y="327.00" font-size="24.5" font-weight="700" fill="#000" textLength="48.80" lengthAdjust="spacingAndGlyphs"  stroke="#000" stroke-width="0.5" stroke-linejoin="round">Foot</text>
</svg>
</body></html>
